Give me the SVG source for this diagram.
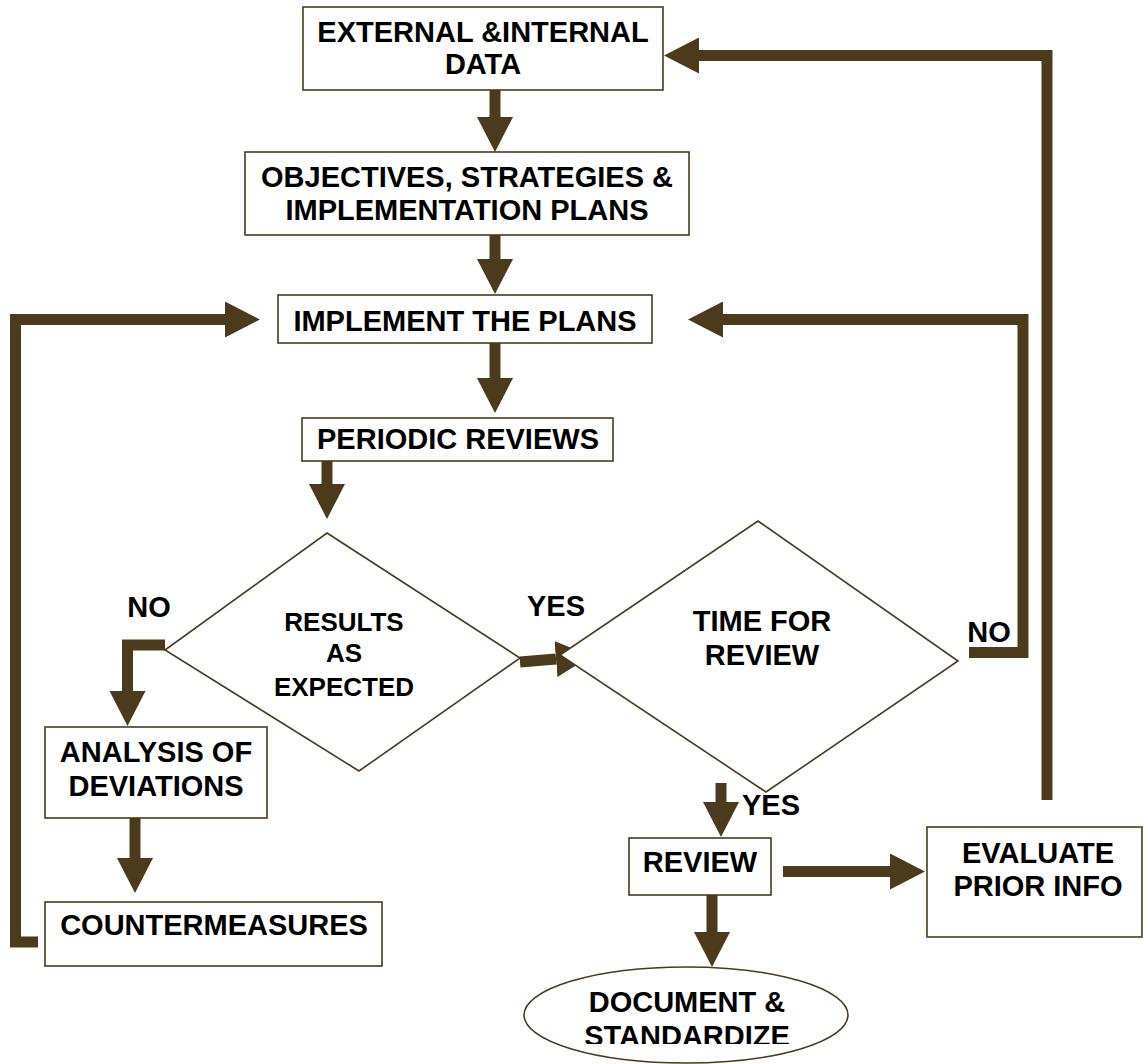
<svg xmlns="http://www.w3.org/2000/svg" width="1143" height="1064" viewBox="0 0 1143 1064">
<style>
.box{fill:#fff;stroke:#4b3a1b;stroke-width:1.6}
.t{font-family:"Liberation Sans",Arial,sans-serif;font-weight:bold;font-size:29px;fill:#000;text-anchor:middle}
.ts{font-size:26px}
.c{fill:none;stroke:#4b3a1b;stroke-width:11;stroke-linejoin:miter;marker-end:url(#ah)}
.cn{fill:none;stroke:#4b3a1b;stroke-width:11}
</style>
<defs>
<marker id="ah" markerUnits="userSpaceOnUse" markerWidth="36" markerHeight="36" viewBox="0 0 36 36" refX="0" refY="18" orient="auto">
<path d="M0,0 L35,18 L0,36 z" fill="#4b3a1b"/>
</marker>
<clipPath id="clipStd"><rect x="0" y="0" width="1143" height="1044"/></clipPath>
</defs>
<rect width="1143" height="1064" fill="#fff"/>

<g id="connectors">
<path class="c" d="M495,90 V117"/>
<path class="c" d="M495,235 V259"/>
<path class="c" d="M495,343 V378"/>
<path class="c" d="M327,461 V484"/>
<path class="c" d="M520,662 L556,659"/>
<path class="c" d="M165,645 H127.5 V691"/>
<path class="c" d="M135,818 V858"/>
<path class="c" d="M38,942 H15.5 V319.5 H225"/>
<path class="c" d="M969,652.5 H1023 V319.5 H723"/>
<path class="c" d="M721,783 V802"/>
<path class="c" d="M783,871.5 H890"/>
<path class="c" d="M712,895 V932"/>
<path class="c" d="M1047,800 V55.5 H699"/>
</g>

<g id="n_external">
<rect class="box" x="303" y="7" width="360" height="83"/>
<text class="t" x="483" y="42">EXTERNAL &amp;INTERNAL</text>
<text class="t" x="483" y="74">DATA</text>
</g>
<g id="n_objectives">
<rect class="box" x="245" y="152" width="444" height="83"/>
<text class="t" x="467" y="187">OBJECTIVES, STRATEGIES &amp;</text>
<text class="t" x="467" y="220">IMPLEMENTATION PLANS</text>
</g>
<g id="n_implement">
<rect class="box" x="278" y="295" width="374" height="48"/>
<text class="t" x="465" y="331">IMPLEMENT THE PLANS</text>
</g>
<g id="n_periodic">
<rect class="box" x="302" y="418" width="311" height="43"/>
<text class="t" x="458" y="449">PERIODIC REVIEWS</text>
</g>
<g id="n_results">
<polygon class="box" points="327,533 520,658 359,771 165,650"/>
<text class="t ts" x="344" y="631">RESULTS</text>
<text class="t ts" x="344" y="662">AS</text>
<text class="t ts" x="344" y="696">EXPECTED</text>
</g>
<g id="n_time">
<polygon class="box" points="758,521 958,661 766,792 560,655"/>
<text class="t" x="762" y="631">TIME FOR</text>
<text class="t" x="762" y="665">REVIEW</text>
</g>
<g id="labels">
<text class="t" x="149" y="617">NO</text>
<text class="t" x="556" y="616">YES</text>
<text class="t" x="989" y="642">NO</text>
<text class="t" x="771" y="815">YES</text>
</g>
<g id="n_analysis">
<rect class="box" x="45" y="727" width="222" height="91"/>
<text class="t" x="156" y="762">ANALYSIS OF</text>
<text class="t" x="156" y="796">DEVIATIONS</text>
</g>
<g id="n_counter">
<rect class="box" x="45" y="902" width="337" height="64"/>
<text class="t" x="214" y="935">COUNTERMEASURES</text>
</g>
<g id="n_review">
<rect class="box" x="629" y="838" width="142" height="57"/>
<text class="t" x="700" y="872">REVIEW</text>
</g>
<g id="n_evaluate">
<rect class="box" x="927" y="827" width="215" height="110"/>
<text class="t" x="1038" y="863">EVALUATE</text>
<text class="t" x="1038" y="896">PRIOR INFO</text>
</g>
<g id="n_document">
<ellipse class="box" cx="686" cy="1015" rx="162" ry="48"/>
<text class="t" x="687" y="1012">DOCUMENT &amp;</text>
<text class="t" x="687" y="1046" clip-path="url(#clipStd)">STANDARDIZE</text>
</g>
</svg>
